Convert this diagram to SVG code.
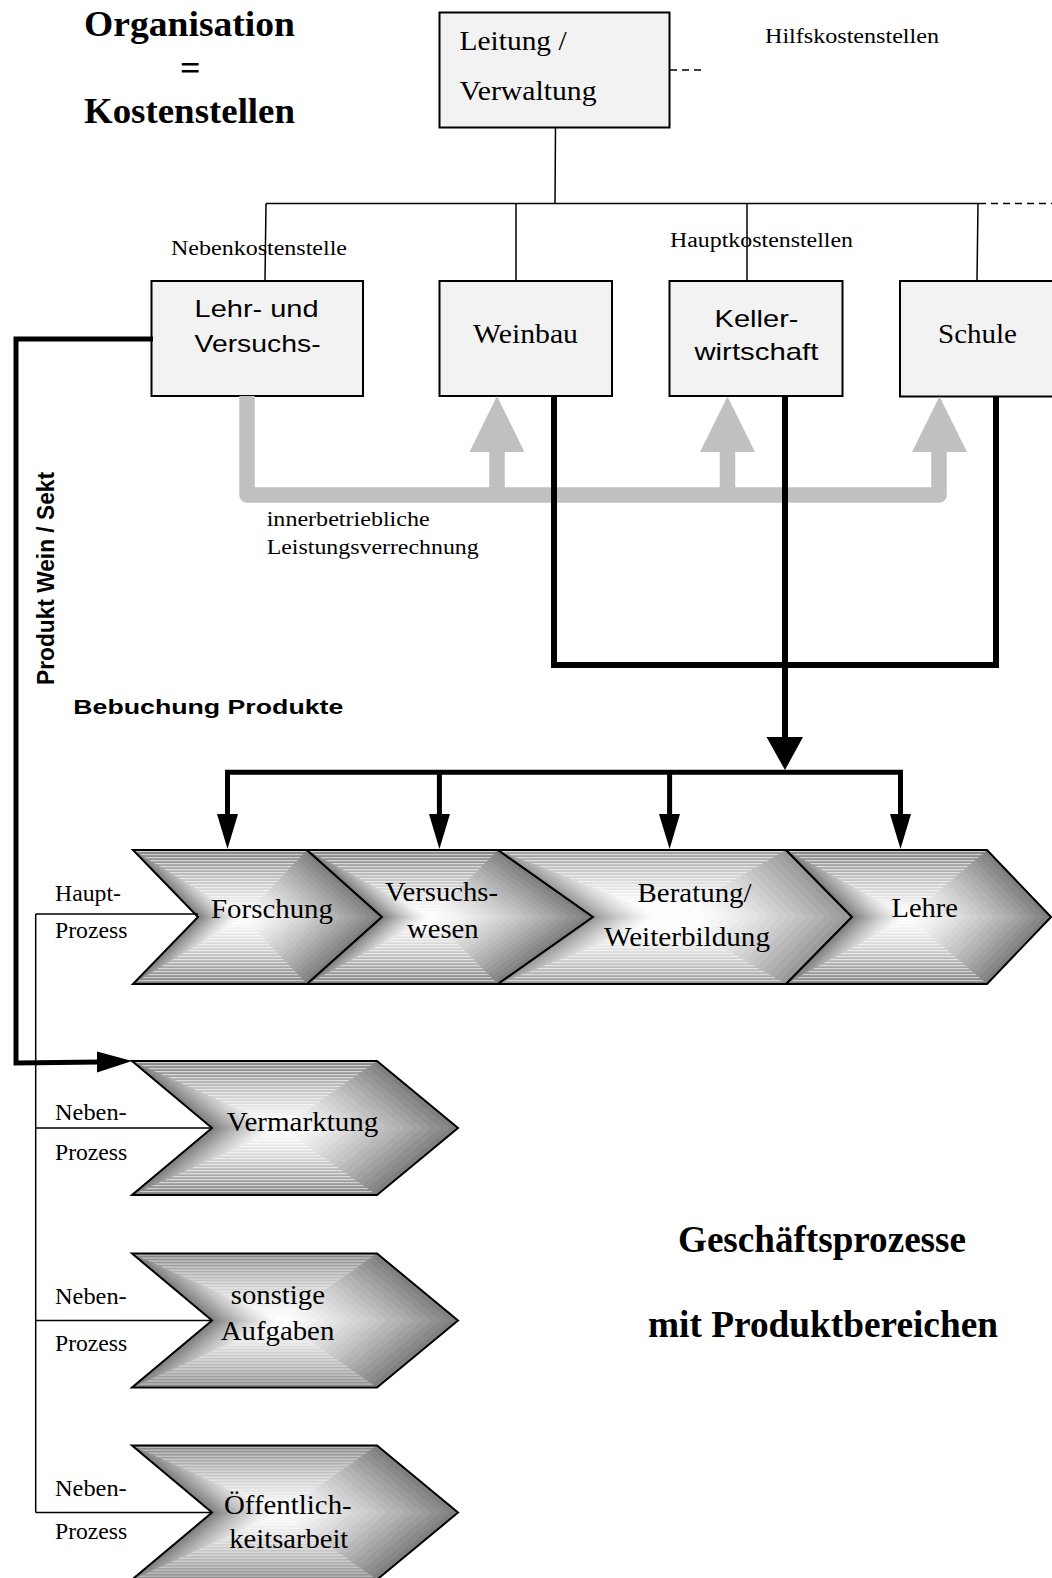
<svg xmlns="http://www.w3.org/2000/svg" xmlns:xlink="http://www.w3.org/1999/xlink" width="1052" height="1578" viewBox="0 0 1052 1578">
  <style>
    .serif { font-family: "Liberation Serif", "Times New Roman", serif; }
    .sans { font-family: "Liberation Sans", Arial, sans-serif; }
    .bold { font-weight: bold; }
    .box { fill: #f2f2f2; stroke: #000; stroke-width: 2; }
    .tree { fill: none; stroke: #000; stroke-width: 1.5; }
    .dash { stroke-dasharray: 7 5; }
    .gray { fill: none; stroke: #c0c0c0; stroke-width: 15.5; stroke-linejoin: round; }
    .grayhead { fill: #c0c0c0; }
    .flow { fill: none; stroke: #000; stroke-width: 6; stroke-linejoin: miter; }
    .flow-thin { fill: none; stroke: #000; stroke-width: 5; stroke-linejoin: miter; }
    .head { fill: #000; }
    .outline { fill: none; stroke: #000; stroke-width: 2; }
    .st { fill: url(#stripes); }
    .l0 { fill: #808080; } .l1 { fill: #898989; } .l2 { fill: #919191; } .l3 { fill: #9a9a9a; }
    .l4 { fill: #a2a2a2; } .l5 { fill: #aaaaaa; } .l6 { fill: #b2b2b2; } .l7 { fill: #b9b9b9; }
    .l8 { fill: #c1c1c1; } .l9 { fill: #c8c8c8; } .l10 { fill: #cfcfcf; } .l11 { fill: #d5d5d5; }
    .l12 { fill: #dcdcdc; } .l13 { fill: #e2e2e2; } .l14 { fill: #e7e7e7; } .l15 { fill: #ededed; }
    .l16 { fill: #f2f2f2; } .l17 { fill: #f6f6f6; } .l18 { fill: #fafafa; } .l19 { fill: #fdfdfd; }
  </style>
  <defs>
    <pattern id="stripes" patternUnits="userSpaceOnUse" width="8" height="3">
      <rect width="8" height="1.2" fill="#fff" opacity="0.6"/>
    </pattern>
    <!-- chevron outlines, local coordinates around the shading centre -->
    <polygon id="p-fo" points="-110,-67 64,-67 139,0 64,67 -110,67 -45,0"/>
    <polygon id="p-ve" points="-124,-67 67,-67 162,0 67,67 -124,67 -49,0"/>
    <polygon id="p-be" points="-171,-67 117,-67 183,0 117,67 -171,67 -76,0"/>
    <polygon id="p-le" points="-122,-67 79,-67 143,0 79,67 -122,67 -56,0"/>
    <polygon id="p-ne" points="-149,-67 96,-67 177,0 96,67 -149,67 -69,0"/>
    <!-- shaded fills: nested copies shrinking toward the centre -->
    <g id="r-fo">
      <use href="#p-fo" class="l0"/><use href="#p-fo" class="l1" transform="scale(.95)"/><use href="#p-fo" class="l2" transform="scale(.90)"/><use href="#p-fo" class="l3" transform="scale(.85)"/><use href="#p-fo" class="l4" transform="scale(.80)"/><use href="#p-fo" class="l5" transform="scale(.75)"/><use href="#p-fo" class="l6" transform="scale(.70)"/><use href="#p-fo" class="l7" transform="scale(.65)"/><use href="#p-fo" class="l8" transform="scale(.60)"/><use href="#p-fo" class="l9" transform="scale(.55)"/><use href="#p-fo" class="l10" transform="scale(.50)"/><use href="#p-fo" class="l11" transform="scale(.45)"/><use href="#p-fo" class="l12" transform="scale(.40)"/><use href="#p-fo" class="l13" transform="scale(.35)"/><use href="#p-fo" class="l14" transform="scale(.30)"/><use href="#p-fo" class="l15" transform="scale(.25)"/><use href="#p-fo" class="l16" transform="scale(.20)"/><use href="#p-fo" class="l17" transform="scale(.15)"/><use href="#p-fo" class="l18" transform="scale(.10)"/><use href="#p-fo" class="l19" transform="scale(.05)"/>
      <polygon class="st" points="-110,-67 64,-67 0,0"/><polygon class="st" points="-110,67 64,67 0,0"/>
    </g>
    <g id="r-ve">
      <use href="#p-ve" class="l0"/><use href="#p-ve" class="l1" transform="scale(.95)"/><use href="#p-ve" class="l2" transform="scale(.90)"/><use href="#p-ve" class="l3" transform="scale(.85)"/><use href="#p-ve" class="l4" transform="scale(.80)"/><use href="#p-ve" class="l5" transform="scale(.75)"/><use href="#p-ve" class="l6" transform="scale(.70)"/><use href="#p-ve" class="l7" transform="scale(.65)"/><use href="#p-ve" class="l8" transform="scale(.60)"/><use href="#p-ve" class="l9" transform="scale(.55)"/><use href="#p-ve" class="l10" transform="scale(.50)"/><use href="#p-ve" class="l11" transform="scale(.45)"/><use href="#p-ve" class="l12" transform="scale(.40)"/><use href="#p-ve" class="l13" transform="scale(.35)"/><use href="#p-ve" class="l14" transform="scale(.30)"/><use href="#p-ve" class="l15" transform="scale(.25)"/><use href="#p-ve" class="l16" transform="scale(.20)"/><use href="#p-ve" class="l17" transform="scale(.15)"/><use href="#p-ve" class="l18" transform="scale(.10)"/><use href="#p-ve" class="l19" transform="scale(.05)"/>
      <polygon class="st" points="-124,-67 67,-67 0,0"/><polygon class="st" points="-124,67 67,67 0,0"/>
    </g>
    <g id="r-be">
      <use href="#p-be" class="l3"/><use href="#p-be" class="l4" transform="scale(.95)"/><use href="#p-be" class="l5" transform="scale(.90)"/><use href="#p-be" class="l6" transform="scale(.85)"/><use href="#p-be" class="l7" transform="scale(.80)"/><use href="#p-be" class="l8" transform="scale(.75)"/><use href="#p-be" class="l9" transform="scale(.70)"/><use href="#p-be" class="l10" transform="scale(.65)"/><use href="#p-be" class="l11" transform="scale(.60)"/><use href="#p-be" class="l12" transform="scale(.55)"/><use href="#p-be" class="l13" transform="scale(.50)"/><use href="#p-be" class="l14" transform="scale(.45)"/><use href="#p-be" class="l15" transform="scale(.40)"/><use href="#p-be" class="l16" transform="scale(.35)"/><use href="#p-be" class="l17" transform="scale(.30)"/><use href="#p-be" class="l18" transform="scale(.25)"/><use href="#p-be" class="l19" transform="scale(.20)"/>
      <polygon class="st" points="-171,-67 117,-67 0,0"/><polygon class="st" points="-171,67 117,67 0,0"/>
    </g>
    <g id="r-le">
      <use href="#p-le" class="l0"/><use href="#p-le" class="l1" transform="scale(.95)"/><use href="#p-le" class="l2" transform="scale(.90)"/><use href="#p-le" class="l3" transform="scale(.85)"/><use href="#p-le" class="l4" transform="scale(.80)"/><use href="#p-le" class="l5" transform="scale(.75)"/><use href="#p-le" class="l6" transform="scale(.70)"/><use href="#p-le" class="l7" transform="scale(.65)"/><use href="#p-le" class="l8" transform="scale(.60)"/><use href="#p-le" class="l9" transform="scale(.55)"/><use href="#p-le" class="l10" transform="scale(.50)"/><use href="#p-le" class="l11" transform="scale(.45)"/><use href="#p-le" class="l12" transform="scale(.40)"/><use href="#p-le" class="l13" transform="scale(.35)"/><use href="#p-le" class="l14" transform="scale(.30)"/><use href="#p-le" class="l15" transform="scale(.25)"/><use href="#p-le" class="l16" transform="scale(.20)"/><use href="#p-le" class="l17" transform="scale(.15)"/><use href="#p-le" class="l18" transform="scale(.10)"/><use href="#p-le" class="l19" transform="scale(.05)"/>
      <polygon class="st" points="-122,-67 79,-67 0,0"/><polygon class="st" points="-122,67 79,67 0,0"/>
    </g>
    <g id="r-ne">
      <use href="#p-ne" class="l0"/><use href="#p-ne" class="l1" transform="scale(.95)"/><use href="#p-ne" class="l2" transform="scale(.90)"/><use href="#p-ne" class="l3" transform="scale(.85)"/><use href="#p-ne" class="l4" transform="scale(.80)"/><use href="#p-ne" class="l5" transform="scale(.75)"/><use href="#p-ne" class="l6" transform="scale(.70)"/><use href="#p-ne" class="l7" transform="scale(.65)"/><use href="#p-ne" class="l8" transform="scale(.60)"/><use href="#p-ne" class="l9" transform="scale(.55)"/><use href="#p-ne" class="l10" transform="scale(.50)"/><use href="#p-ne" class="l11" transform="scale(.45)"/><use href="#p-ne" class="l12" transform="scale(.40)"/><use href="#p-ne" class="l13" transform="scale(.35)"/><use href="#p-ne" class="l14" transform="scale(.30)"/><use href="#p-ne" class="l15" transform="scale(.25)"/><use href="#p-ne" class="l16" transform="scale(.20)"/><use href="#p-ne" class="l17" transform="scale(.15)"/><use href="#p-ne" class="l18" transform="scale(.10)"/><use href="#p-ne" class="l19" transform="scale(.05)"/>
      <polygon class="st" points="-149,-67 96,-67 0,0"/><polygon class="st" points="-149,67 96,67 0,0"/>
    </g>
  </defs>

  <rect width="1052" height="1578" fill="#fff"/>

  <!-- headings -->
  <g id="title-organisation" class="serif bold" font-size="36">
    <text x="84" y="36" textLength="211" lengthAdjust="spacingAndGlyphs">Organisation</text>
    <text x="180" y="80">=</text>
    <text x="84" y="123" textLength="211" lengthAdjust="spacingAndGlyphs">Kostenstellen</text>
  </g>
  <g id="title-prozesse" class="serif bold" font-size="37">
    <text x="678" y="1252" textLength="288" lengthAdjust="spacingAndGlyphs">Geschäftsprozesse</text>
    <text x="648" y="1337" textLength="350" lengthAdjust="spacingAndGlyphs">mit Produktbereichen</text>
  </g>

  <!-- cost centre tree -->
  <g id="tree-lines">
    <path class="tree" d="M555.5,128 L555,203.5 M266,203.5 H979 M266,203.5 L265,281 M516,203.5 V281 M747,203.5 V281 M978,203.5 L977,281"/>
    <path class="tree dash" d="M979,203.5 H1052 M670,70 H704"/>
  </g>
  <g class="serif" font-size="20">
    <text x="765" y="43" textLength="174" lengthAdjust="spacingAndGlyphs">Hilfskostenstellen</text>
    <text x="171" y="255" textLength="176" lengthAdjust="spacingAndGlyphs">Nebenkostenstelle</text>
    <text x="670" y="247" textLength="183" lengthAdjust="spacingAndGlyphs">Hauptkostenstellen</text>
  </g>

  <g id="node-leitung">
    <rect class="box" x="439.5" y="12.5" width="230" height="115"/>
    <text class="serif" font-size="28" x="459.6" y="50" textLength="107" lengthAdjust="spacingAndGlyphs">Leitung /</text>
    <text class="serif" font-size="28" x="459.6" y="100" textLength="137" lengthAdjust="spacingAndGlyphs">Verwaltung</text>
  </g>
  <g id="node-lehr">
    <rect class="box" x="151.5" y="281" width="211.5" height="115"/>
    <text class="sans" font-size="24" x="194.6" y="317" textLength="124" lengthAdjust="spacingAndGlyphs">Lehr- und</text>
    <text class="sans" font-size="24" x="194.6" y="352" textLength="126" lengthAdjust="spacingAndGlyphs">Versuchs-</text>
  </g>
  <g id="node-weinbau">
    <rect class="box" x="439.5" y="281" width="172.5" height="115"/>
    <text class="serif" font-size="28" x="473" y="343" textLength="105" lengthAdjust="spacingAndGlyphs">Weinbau</text>
  </g>
  <g id="node-keller">
    <rect class="box" x="669.5" y="281" width="173" height="115"/>
    <text class="sans" font-size="24" x="714.5" y="327" textLength="84" lengthAdjust="spacingAndGlyphs">Keller-</text>
    <text class="sans" font-size="24" x="694.4" y="360" textLength="124" lengthAdjust="spacingAndGlyphs">wirtschaft</text>
  </g>
  <g id="node-schule">
    <rect class="box" x="900" y="281" width="170" height="115.5"/>
    <text class="serif" font-size="28" x="938" y="343" textLength="79" lengthAdjust="spacingAndGlyphs">Schule</text>
  </g>

  <!-- internal service allocation -->
  <g id="allocation">
    <path class="gray" d="M247,396 V495 H939 V452 M497,495 V452 M727.5,495 V452"/>
    <polygon class="grayhead" points="469.5,452 524.5,452 497,396"/>
    <polygon class="grayhead" points="700,452 755,452 727.5,396.5"/>
    <polygon class="grayhead" points="912,452 967,452 939.5,396.5"/>
    <text class="serif" font-size="20" x="266.7" y="525.7" textLength="163" lengthAdjust="spacingAndGlyphs">innerbetriebliche</text>
    <text class="serif" font-size="20" x="266.7" y="554" textLength="212" lengthAdjust="spacingAndGlyphs">Leistungsverrechnung</text>
  </g>

  <!-- business processes -->
  <g id="node-forschung">
    <g transform="translate(243,917)"><use href="#r-fo"/><use href="#p-fo" class="outline"/></g>
    <text class="serif" font-size="28" x="211" y="918" textLength="122" lengthAdjust="spacingAndGlyphs">Forschung</text>
  </g>
  <g id="node-versuchswesen">
    <g transform="translate(431,917)"><use href="#r-ve"/><use href="#p-ve" class="outline"/></g>
    <text class="serif" font-size="28" x="385" y="901" textLength="113" lengthAdjust="spacingAndGlyphs">Versuchs-</text>
    <text class="serif" font-size="28" x="407" y="938" textLength="71.6" lengthAdjust="spacingAndGlyphs">wesen</text>
  </g>
  <g id="node-beratung">
    <g transform="translate(669,917)"><use href="#r-be"/><use href="#p-be" class="outline"/></g>
    <text class="serif" font-size="28" x="637.6" y="902" textLength="114" lengthAdjust="spacingAndGlyphs">Beratung/</text>
    <text class="serif" font-size="28" x="604" y="946" textLength="166" lengthAdjust="spacingAndGlyphs">Weiterbildung</text>
  </g>
  <g id="node-lehre">
    <g transform="translate(908,917)"><use href="#r-le"/><use href="#p-le" class="outline"/></g>
    <text class="serif" font-size="28" x="891.5" y="917" textLength="66.5" lengthAdjust="spacingAndGlyphs">Lehre</text>
  </g>
  <g id="node-vermarktung">
    <g transform="translate(281,1128)"><use href="#r-ne"/><use href="#p-ne" class="outline"/></g>
    <text class="serif" font-size="28" x="226.7" y="1131" textLength="151.6" lengthAdjust="spacingAndGlyphs">Vermarktung</text>
  </g>
  <g id="node-sonstige">
    <g transform="translate(281,1320.5)"><use href="#r-ne"/><use href="#p-ne" class="outline"/></g>
    <text class="serif" font-size="28" x="230.7" y="1304" textLength="94.3" lengthAdjust="spacingAndGlyphs">sonstige</text>
    <text class="serif" font-size="28" x="220.7" y="1340" textLength="113.6" lengthAdjust="spacingAndGlyphs">Aufgaben</text>
  </g>
  <g id="node-oeffentlichkeit">
    <g transform="translate(281,1512.6)"><use href="#r-ne"/><use href="#p-ne" class="outline"/></g>
    <text class="serif" font-size="28" x="224" y="1513.6" textLength="127.7" lengthAdjust="spacingAndGlyphs">Öffentlich-</text>
    <text class="serif" font-size="28" x="229.3" y="1548" textLength="119" lengthAdjust="spacingAndGlyphs">keitsarbeit</text>
  </g>

  <!-- process type labels -->
  <g id="process-labels" class="serif" font-size="23">
    <text x="55" y="901" textLength="66" lengthAdjust="spacingAndGlyphs">Haupt-</text>
    <text x="55" y="938" textLength="72.5" lengthAdjust="spacingAndGlyphs">Prozess</text>
    <text x="55" y="1119.6" textLength="71.7" lengthAdjust="spacingAndGlyphs">Neben-</text>
    <text x="55" y="1160" textLength="72.3" lengthAdjust="spacingAndGlyphs">Prozess</text>
    <text x="55" y="1304" textLength="71.7" lengthAdjust="spacingAndGlyphs">Neben-</text>
    <text x="55" y="1350.6" textLength="72.3" lengthAdjust="spacingAndGlyphs">Prozess</text>
    <text x="55" y="1496.4" textLength="71.7" lengthAdjust="spacingAndGlyphs">Neben-</text>
    <text x="55" y="1539.3" textLength="72.3" lengthAdjust="spacingAndGlyphs">Prozess</text>
  </g>

  <g id="product-labels" class="sans bold">
    <text font-size="23" transform="translate(53.5,685) rotate(-90)" textLength="213" lengthAdjust="spacingAndGlyphs">Produkt Wein / Sekt</text>
    <text font-size="20" x="73.3" y="714" textLength="270" lengthAdjust="spacingAndGlyphs">Bebuchung Produkte</text>
  </g>

  <!-- connectors -->
  <g id="connectors">
    <!-- process bracket -->
    <path class="tree" d="M35.7,914 V1512.5 M35.7,914 H198 M35.7,1128 H212 M35.7,1320.5 H212 M35.7,1512.5 H212"/>
    <!-- product booking from main cost centres -->
    <path class="flow" d="M554,396 V665 H996 V396"/>
    <path class="flow" d="M785,396 V740"/>
    <polygon class="head" points="766.5,737 803,737 785,770"/>
    <path class="flow-thin" d="M227.5,816 V772.3 H900.5 V816 M439.4,772.3 V816 M669.6,772.3 V816"/>
    <polygon class="head" points="217,814 238,814 227.5,849"/>
    <polygon class="head" points="429,814 450,814 439.4,849"/>
    <polygon class="head" points="659,814 680,814 669.6,849"/>
    <polygon class="head" points="890,814 911,814 900.5,849"/>
    <!-- wine / sparkling wine product path -->
    <path class="flow-thin" d="M153,339 H16 V1063 L100,1062"/>
    <polygon class="head" points="97,1051.5 132,1061 97,1072.5"/>
  </g>
</svg>
